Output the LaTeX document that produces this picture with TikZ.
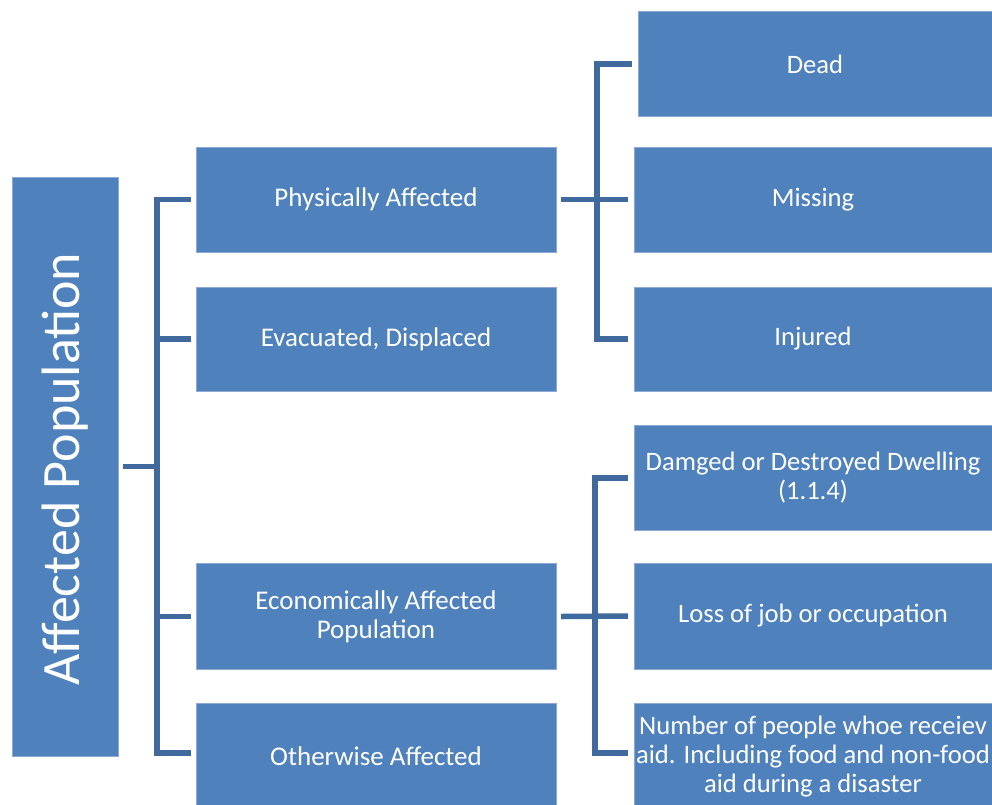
\documentclass[tikz,border=0pt]{standalone}
\usepackage{fontspec}
\setmainfont{Carlito}
\definecolor{boxfill}{RGB}{79,129,189}
\definecolor{boxedge}{RGB}{140,170,212}
\definecolor{linkblue}{RGB}{64,105,158}
\begin{document}
\begin{tikzpicture}[x=1pt,y=-1pt,
  box/.style={rectangle, fill=boxfill, draw=boxedge, line width=0.6pt,
    inner sep=0pt, outer sep=0pt, text=white, align=center,
    font=\fontsize{27}{29}\selectfont},
  midbox/.style={box, minimum width=360pt},
  leafbox/.style={box, minimum width=358pt, font=\fontsize{26.6}{29}\selectfont},
  conn/.style={draw=linkblue, line width=5.5pt}]
\useasboundingbox (0,0) rectangle (992,804);

% root of the hierarchy
\node[box, minimum width=106pt, minimum height=579pt,
  font=\fontsize{54}{60}\selectfont] (root) at (65,466.5)
  {\rotatebox{90}{\hspace*{-5pt}Affected Population}};

% second level
\node[midbox, minimum height=105pt] (pa) at (376,199.5) {Physically Affected};
\node[midbox, minimum height=104pt] (ev) at (376,339) {Evacuated, Displaced};
\node[midbox, minimum height=106pt] (ec) at (376,616.5) {Economically Affected\\Population};
\node[midbox, minimum height=106pt] (ot) at (376,756) {Otherwise Affected};

% third level
\node[leafbox, minimum width=354pt, minimum height=105pt] (dead) at (815,64) {Dead};
\node[leafbox, minimum height=105pt] (missing) at (813,199.5) {Missing};
\node[leafbox, minimum height=104pt] (injured) at (813,339) {Injured};
\node[leafbox, minimum height=105pt] (dwelling) at (813,478) {Damged or Destroyed Dwelling\\(1.1.4)};
\node[leafbox, minimum height=106pt] (loss) at (813,616) {Loss of job or occupation};
\node[leafbox, minimum height=106pt] (number) at (813,756.5)
  {Number of people whoe receiev\\aid. Including food and non-food\\aid during a disaster};

% bracket from the root to the second level
\coordinate (lb) at (157,0);
\draw[conn] ([xshift=5]root.east) -- (root.east -| lb);
\draw[conn] ([xshift=-5]pa.west) -- (pa.west -| lb) -- ([yshift=3]ot.west -| lb) -- ([xshift=-5,yshift=3]ot.west);
\draw[conn] ([xshift=-5]ev.west) -- (ev.west -| lb);
\draw[conn] ([xshift=-5]ec.west) -- (ec.west -| lb);

% bracket under "Physically Affected"
\coordinate (ub) at (597,0);
\draw[conn] ([xshift=-6]dead.west) -- (dead.west -| ub) -- (injured.west -| ub) -- ([xshift=-6]injured.west);
\draw[conn] ([xshift=5]pa.east) -- ([xshift=-6]missing.west);

% bracket under "Economically Affected Population"
\coordinate (lob) at (595,0);
\draw[conn] ([xshift=-6]dwelling.west) -- (dwelling.west -| lob) -- ([yshift=3.5]number.west -| lob) -- ([xshift=-6,yshift=3.5]number.west);
\draw[conn] ([xshift=5]ec.east) -- ([xshift=-6]loss.west);
\end{tikzpicture}
\end{document}
